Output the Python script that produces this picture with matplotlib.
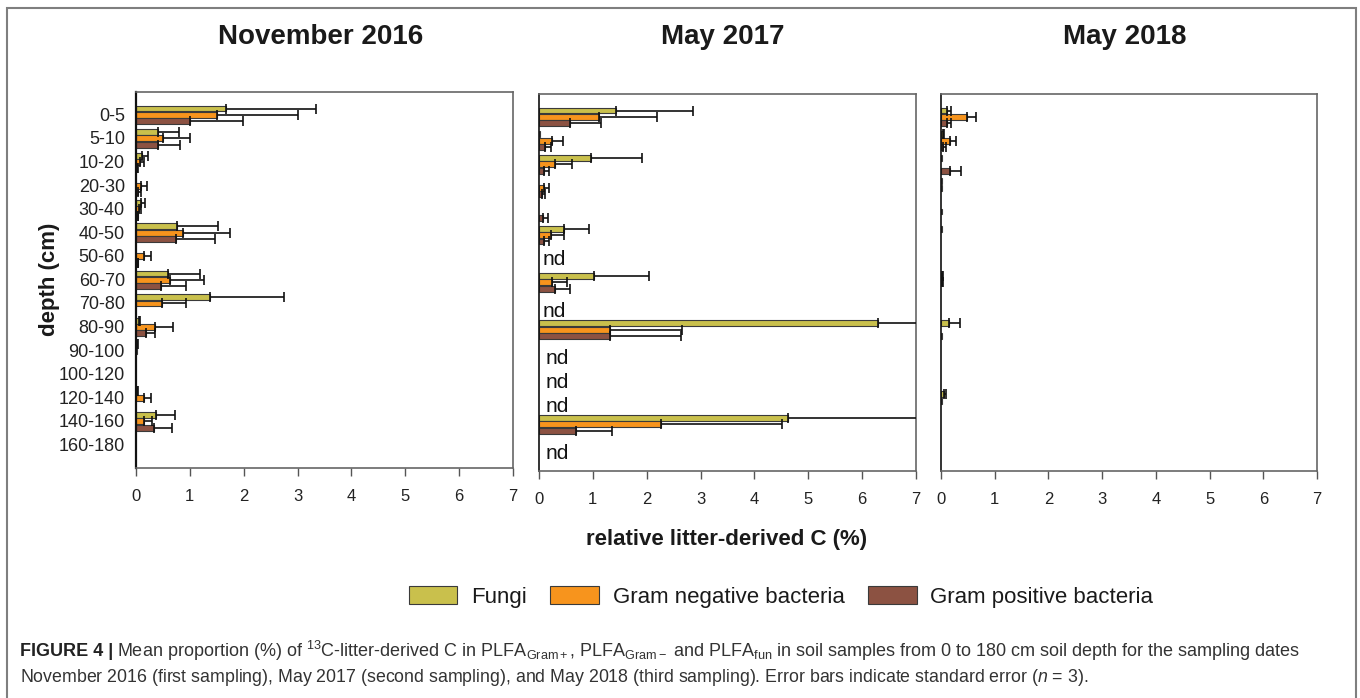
import numpy as np
import matplotlib
matplotlib.use('Agg')
import matplotlib.pyplot as plt
from matplotlib.patches import Patch, Rectangle

plt.rcParams['font.family'] = ['Liberation Sans', 'DejaVu Sans']
plt.rcParams['mathtext.fontset'] = 'custom'
plt.rcParams['mathtext.rm'] = 'Liberation Sans'
plt.rcParams['mathtext.it'] = 'Liberation Sans:italic'
plt.rcParams['mathtext.bf'] = 'Liberation Sans:bold'

# depth classes (cm)
depths = ['0-5', '5-10', '10-20', '20-30', '30-40', '40-50', '50-60', '60-70',
          '70-80', '80-90', '90-100', '100-120', '120-140', '140-160', '160-180']

groups = ['Fungi', 'Gram negative bacteria', 'Gram positive bacteria']
colors = ['#C9C04C', '#F7941D', '#8C5242']
titles = ['November 2016', 'May 2017', 'May 2018']

# November 2016: mean and standard error
nov16_fungi = [1.68, 0.40, 0.12, 0.00, 0.09, 0.77, 0.00, 0.59, 1.38, 0.05, 0.02, 0.00, 0.02, 0.37, 0.00]
nov16_fungi_se = [1.67, 0.39, 0.10, 0.00, 0.08, 0.76, 0.00, 0.59, 1.36, 0.02, 0.02, 0.00, 0.01, 0.35, 0.00]
nov16_gneg = [1.50, 0.51, 0.07, 0.10, 0.06, 0.87, 0.14, 0.64, 0.48, 0.35, 0.01, 0.00, 0.14, 0.14, 0.00]
nov16_gneg_se = [1.50, 0.50, 0.08, 0.10, 0.04, 0.87, 0.13, 0.62, 0.44, 0.34, 0.00, 0.00, 0.13, 0.15, 0.00]
nov16_gpos = [1.00, 0.41, 0.02, 0.04, 0.03, 0.74, 0.03, 0.46, 0.00, 0.18, 0.00, 0.00, 0.00, 0.33, 0.00]
nov16_gpos_se = [0.99, 0.41, 0.01, 0.06, 0.01, 0.72, 0.01, 0.46, 0.00, 0.17, 0.00, 0.00, 0.00, 0.34, 0.00]

# May 2017 (None = nd, not determined)
may17_fungi = [1.43, 0.02, 0.96, 0.00, 0.00, 0.46, None, 1.02, None, 6.30, None, None, None, 4.62, None]
may17_fungi_se = [1.43, 0.00, 0.96, 0.00, 0.00, 0.47, None, 1.02, None, 1.50, None, None, None, 4.60, None]
may17_gneg = [1.11, 0.24, 0.30, 0.09, 0.00, 0.23, None, 0.25, None, 1.32, None, None, None, 2.26, None]
may17_gneg_se = [1.09, 0.21, 0.32, 0.10, 0.00, 0.23, None, 0.27, None, 1.34, None, None, None, 2.26, None]
may17_gpos = [0.58, 0.11, 0.09, 0.06, 0.08, 0.09, None, 0.29, None, 1.32, None, None, None, 0.68, None]
may17_gpos_se = [0.58, 0.11, 0.10, 0.06, 0.08, 0.10, None, 0.28, None, 1.31, None, None, None, 0.67, None]

# May 2018
may18_fungi = [0.12, 0.04, 0.02, 0.01, 0.00, 0.01, 0.00, 0.02, 0.00, 0.14, 0.00, 0.00, 0.05, 0.00, 0.00]
may18_fungi_se = [0.07, 0.01, 0.00, 0.00, 0.00, 0.00, 0.00, 0.01, 0.00, 0.21, 0.00, 0.00, 0.05, 0.00, 0.00]
may18_gneg = [0.49, 0.16, 0.00, 0.01, 0.01, 0.00, 0.00, 0.02, 0.00, 0.00, 0.00, 0.00, 0.02, 0.00, 0.00]
may18_gneg_se = [0.17, 0.11, 0.00, 0.00, 0.00, 0.00, 0.00, 0.01, 0.00, 0.00, 0.00, 0.00, 0.00, 0.00, 0.00]
may18_gpos = [0.12, 0.04, 0.16, 0.00, 0.00, 0.00, 0.00, 0.00, 0.00, 0.02, 0.00, 0.00, 0.00, 0.00, 0.00]
may18_gpos_se = [0.07, 0.05, 0.21, 0.00, 0.00, 0.00, 0.00, 0.00, 0.00, 0.00, 0.00, 0.00, 0.00, 0.00, 0.00]

panels = [
    [(nov16_fungi, nov16_fungi_se), (nov16_gneg, nov16_gneg_se), (nov16_gpos, nov16_gpos_se)],
    [(may17_fungi, may17_fungi_se), (may17_gneg, may17_gneg_se), (may17_gpos, may17_gpos_se)],
    [(may18_fungi, may18_fungi_se), (may18_gneg, may18_gneg_se), (may18_gpos, may18_gpos_se)],
]

W, H = 1360, 698
fig = plt.figure(figsize=(W / 100, H / 100), dpi=100)

# outer frame of the figure
fig.patches.append(Rectangle((7 / W, -0.05), (1356 - 7) / W, 1.05 - 8 / H,
                             transform=fig.transFigure, fill=False,
                             edgecolor='#7f7f7f', lw=1.5))

axes_px = [(136, 92, 377, 376), (539, 94, 377, 377), (941, 94, 376, 377)]
title_x = [321, 723, 1125]
offsets = [-0.25, 0.02, 0.29]
bar_h = 0.25
y = np.arange(len(depths))

for k, (px, series) in enumerate(zip(axes_px, panels)):
    l, t, w, h = px
    ax = fig.add_axes([l / W, 1 - (t + h) / H, w / W, h / H])
    for j, (vals, errs) in enumerate(series):
        v = np.array([np.nan if a is None else a for a in vals])
        e = np.array([np.nan if a is None else a for a in errs])
        yy = y + offsets[j]
        ok = ~np.isnan(v) & (v > 0)
        ax.barh(yy[ok], v[ok], height=bar_h, color=colors[j],
                edgecolor='#3a3a3a', linewidth=0.8, zorder=2)
        ek = ok & (e > 0)
        ax.errorbar(v[ek], yy[ek], xerr=[np.zeros(ek.sum()), e[ek]], fmt='none',
                    ecolor='#111111', elinewidth=1.2, capsize=3.6, capthick=1.2,
                    zorder=3)
    # nd labels
    nd_rows = [i for i, a in enumerate(series[0][0]) if a is None]
    for i in nd_rows:
        dx = 0.07 if i < 9 else 0.13
        dy = 0.07 if i == 6 else 0.25
        ax.text(dx, i + dy, 'nd', fontsize=15, color='#111111',
                ha='left', va='center')

    ax.set_xlim(0, 7)
    ax.set_ylim(15.0, -0.95)
    ax.set_xticks(range(8))
    ax.tick_params(axis='x', direction='out', length=6, width=1, color='#555555',
                   labelsize=12, labelcolor='#222222', pad=9)
    if k == 0:
        ax.set_yticks(y)
        ax.set_yticklabels(depths)
        ax.tick_params(axis='y', length=0, labelsize=13, labelcolor='#222222', pad=8)
    else:
        ax.set_yticks([])
    for s in ax.spines.values():
        s.set_color('#666666')
        s.set_linewidth(1.2)
    ax.spines['left'].set_color('#111111')
    ax.spines['left'].set_linewidth(1.6 if k == 0 else 1.2)
    fig.text(title_x[k] / W, 1 - 37 / H, titles[k], fontsize=20,
             fontweight='bold', color='#1a1a1a', ha='center', va='center')

fig.text(50 / W, 1 - 279 / H, 'depth (cm)', rotation=90, fontsize=16,
         fontweight='bold', color='#1a1a1a', ha='center', va='center')
fig.text(727 / W, 1 - 540 / H, 'relative litter-derived C (%)', fontsize=16,
         fontweight='bold', color='#1a1a1a', ha='center', va='center')

handles = [Patch(facecolor=c, edgecolor='#3a3a3a', linewidth=0.8) for c in colors]
fig.legend(handles, groups, loc='center', bbox_to_anchor=(781 / W, 1 - 597 / H),
           ncol=3, frameon=False, fontsize=16, handlelength=2.2, handleheight=0.85,
           handletextpad=0.6, columnspacing=1.07, labelcolor='#1a1a1a')

# caption
cap_fs = 13
t1 = fig.text(20 / W, 1 - 651 / H, 'FIGURE 4 |', fontsize=cap_fs, fontweight='bold',
              color='#222222', ha='left', va='center')
fig.canvas.draw()
bb = t1.get_window_extent(fig.canvas.get_renderer())
fig.text(bb.x1 / W + 4 / W, 1 - 651 / H,
         r'Mean proportion (%) of $^{13}$C-litter-derived C in PLFA$_{\mathrm{Gram+}}$, '
         r'PLFA$_{\mathrm{Gram-}}$ and PLFA$_{\mathrm{fun}}$ in soil samples from 0 to 180 cm '
         r'soil depth for the sampling dates',
         fontsize=cap_fs, color='#333333', ha='left', va='center')
fig.text(20 / W, 1 - 677 / H,
         r'November 2016 (first sampling), May 2017 (second sampling), and May 2018 '
         r'(third sampling). Error bars indicate standard error ($n$ = 3).',
         fontsize=12.75, color='#333333', ha='left', va='center')

fig.savefig('out.png', dpi=100)
